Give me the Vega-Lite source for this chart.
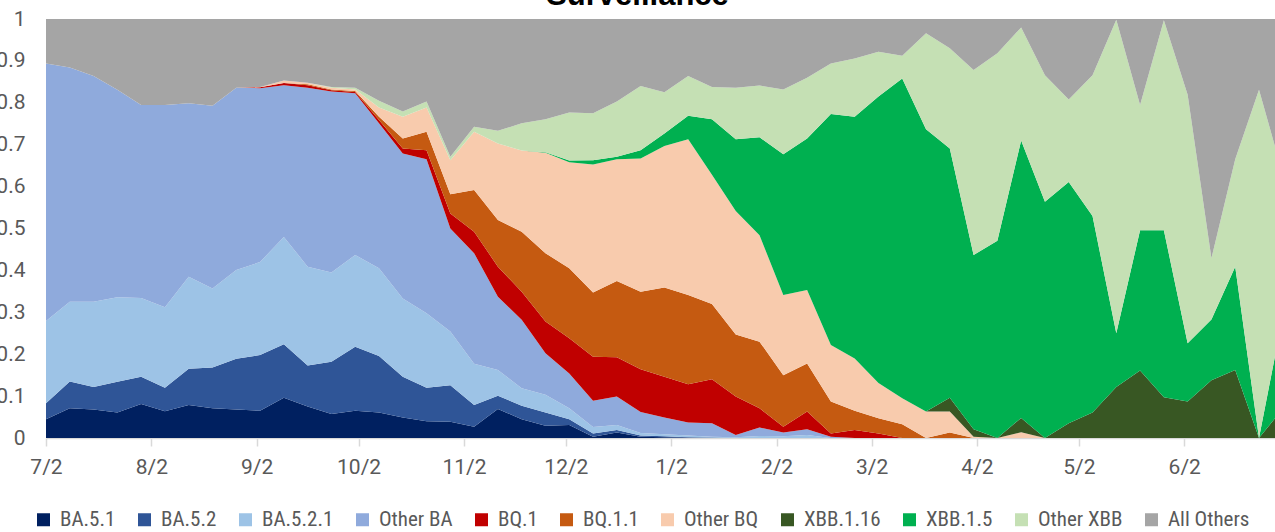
{
"$schema":"https://vega.github.io/schema/vega-lite/v6.json",
"width":1229,"height":419,"autosize":"none",
"padding":{"left":46,"top":19,"right":0,"bottom":94},
"background":"white",
"config":{"view":{"stroke":null}},
"title":{"text":"Surveillance","font":"Liberation Sans","fontSize":31,"fontWeight":"bold","color":"#000000","anchor":"middle","frame":"group","dx":-23,"baseline":"alphabetic","offset":-28,"zindex":1},
"data":{"values":[
{"d":"2022-07-02","s":"BA.5.1","v":0.045},{"d":"2022-07-02","s":"BA.5.2","v":0.038},{"d":"2022-07-02","s":"BA.5.2.1","v":0.196},{"d":"2022-07-02","s":"Other BA","v":0.615},{"d":"2022-07-02","s":"BQ.1","v":0},{"d":"2022-07-02","s":"BQ.1.1","v":0},{"d":"2022-07-02","s":"Other BQ","v":0},{"d":"2022-07-02","s":"XBB.1.16","v":0},{"d":"2022-07-02","s":"XBB.1.5","v":0},{"d":"2022-07-02","s":"Other XBB","v":0},{"d":"2022-07-02","s":"All Others","v":0.106},
{"d":"2022-07-09","s":"BA.5.1","v":0.071},{"d":"2022-07-09","s":"BA.5.2","v":0.064},{"d":"2022-07-09","s":"BA.5.2.1","v":0.190},{"d":"2022-07-09","s":"Other BA","v":0.559},{"d":"2022-07-09","s":"BQ.1","v":0},{"d":"2022-07-09","s":"BQ.1.1","v":0},{"d":"2022-07-09","s":"Other BQ","v":0},{"d":"2022-07-09","s":"XBB.1.16","v":0},{"d":"2022-07-09","s":"XBB.1.5","v":0},{"d":"2022-07-09","s":"Other XBB","v":0},{"d":"2022-07-09","s":"All Others","v":0.116},
{"d":"2022-07-16","s":"BA.5.1","v":0.068},{"d":"2022-07-16","s":"BA.5.2","v":0.054},{"d":"2022-07-16","s":"BA.5.2.1","v":0.203},{"d":"2022-07-16","s":"Other BA","v":0.539},{"d":"2022-07-16","s":"BQ.1","v":0},{"d":"2022-07-16","s":"BQ.1.1","v":0},{"d":"2022-07-16","s":"Other BQ","v":0},{"d":"2022-07-16","s":"XBB.1.16","v":0},{"d":"2022-07-16","s":"XBB.1.5","v":0},{"d":"2022-07-16","s":"Other XBB","v":0},{"d":"2022-07-16","s":"All Others","v":0.136},
{"d":"2022-07-23","s":"BA.5.1","v":0.061},{"d":"2022-07-23","s":"BA.5.2","v":0.073},{"d":"2022-07-23","s":"BA.5.2.1","v":0.202},{"d":"2022-07-23","s":"Other BA","v":0.495},{"d":"2022-07-23","s":"BQ.1","v":0},{"d":"2022-07-23","s":"BQ.1.1","v":0},{"d":"2022-07-23","s":"Other BQ","v":0},{"d":"2022-07-23","s":"XBB.1.16","v":0},{"d":"2022-07-23","s":"XBB.1.5","v":0},{"d":"2022-07-23","s":"Other XBB","v":0},{"d":"2022-07-23","s":"All Others","v":0.169},
{"d":"2022-07-30","s":"BA.5.1","v":0.081},{"d":"2022-07-30","s":"BA.5.2","v":0.065},{"d":"2022-07-30","s":"BA.5.2.1","v":0.188},{"d":"2022-07-30","s":"Other BA","v":0.461},{"d":"2022-07-30","s":"BQ.1","v":0},{"d":"2022-07-30","s":"BQ.1.1","v":0},{"d":"2022-07-30","s":"Other BQ","v":0},{"d":"2022-07-30","s":"XBB.1.16","v":0},{"d":"2022-07-30","s":"XBB.1.5","v":0},{"d":"2022-07-30","s":"Other XBB","v":0},{"d":"2022-07-30","s":"All Others","v":0.205},
{"d":"2022-08-06","s":"BA.5.1","v":0.064},{"d":"2022-08-06","s":"BA.5.2","v":0.056},{"d":"2022-08-06","s":"BA.5.2.1","v":0.192},{"d":"2022-08-06","s":"Other BA","v":0.483},{"d":"2022-08-06","s":"BQ.1","v":0},{"d":"2022-08-06","s":"BQ.1.1","v":0},{"d":"2022-08-06","s":"Other BQ","v":0},{"d":"2022-08-06","s":"XBB.1.16","v":0},{"d":"2022-08-06","s":"XBB.1.5","v":0},{"d":"2022-08-06","s":"Other XBB","v":0},{"d":"2022-08-06","s":"All Others","v":0.205},
{"d":"2022-08-13","s":"BA.5.1","v":0.079},{"d":"2022-08-13","s":"BA.5.2","v":0.086},{"d":"2022-08-13","s":"BA.5.2.1","v":0.220},{"d":"2022-08-13","s":"Other BA","v":0.414},{"d":"2022-08-13","s":"BQ.1","v":0},{"d":"2022-08-13","s":"BQ.1.1","v":0},{"d":"2022-08-13","s":"Other BQ","v":0},{"d":"2022-08-13","s":"XBB.1.16","v":0},{"d":"2022-08-13","s":"XBB.1.5","v":0},{"d":"2022-08-13","s":"Other XBB","v":0},{"d":"2022-08-13","s":"All Others","v":0.201},
{"d":"2022-08-20","s":"BA.5.1","v":0.071},{"d":"2022-08-20","s":"BA.5.2","v":0.097},{"d":"2022-08-20","s":"BA.5.2.1","v":0.189},{"d":"2022-08-20","s":"Other BA","v":0.436},{"d":"2022-08-20","s":"BQ.1","v":0},{"d":"2022-08-20","s":"BQ.1.1","v":0},{"d":"2022-08-20","s":"Other BQ","v":0},{"d":"2022-08-20","s":"XBB.1.16","v":0},{"d":"2022-08-20","s":"XBB.1.5","v":0},{"d":"2022-08-20","s":"Other XBB","v":0},{"d":"2022-08-20","s":"All Others","v":0.207},
{"d":"2022-08-27","s":"BA.5.1","v":0.068},{"d":"2022-08-27","s":"BA.5.2","v":0.121},{"d":"2022-08-27","s":"BA.5.2.1","v":0.212},{"d":"2022-08-27","s":"Other BA","v":0.435},{"d":"2022-08-27","s":"BQ.1","v":0},{"d":"2022-08-27","s":"BQ.1.1","v":0},{"d":"2022-08-27","s":"Other BQ","v":0},{"d":"2022-08-27","s":"XBB.1.16","v":0},{"d":"2022-08-27","s":"XBB.1.5","v":0},{"d":"2022-08-27","s":"Other XBB","v":0},{"d":"2022-08-27","s":"All Others","v":0.164},
{"d":"2022-09-03","s":"BA.5.1","v":0.065},{"d":"2022-09-03","s":"BA.5.2","v":0.133},{"d":"2022-09-03","s":"BA.5.2.1","v":0.222},{"d":"2022-09-03","s":"Other BA","v":0.415},{"d":"2022-09-03","s":"BQ.1","v":0.002},{"d":"2022-09-03","s":"BQ.1.1","v":0},{"d":"2022-09-03","s":"Other BQ","v":0.001},{"d":"2022-09-03","s":"XBB.1.16","v":0},{"d":"2022-09-03","s":"XBB.1.5","v":0},{"d":"2022-09-03","s":"Other XBB","v":0},{"d":"2022-09-03","s":"All Others","v":0.162},
{"d":"2022-09-10","s":"BA.5.1","v":0.096},{"d":"2022-09-10","s":"BA.5.2","v":0.128},{"d":"2022-09-10","s":"BA.5.2.1","v":0.256},{"d":"2022-09-10","s":"Other BA","v":0.362},{"d":"2022-09-10","s":"BQ.1","v":0.005},{"d":"2022-09-10","s":"BQ.1.1","v":0},{"d":"2022-09-10","s":"Other BQ","v":0.006},{"d":"2022-09-10","s":"XBB.1.16","v":0},{"d":"2022-09-10","s":"XBB.1.5","v":0},{"d":"2022-09-10","s":"Other XBB","v":0},{"d":"2022-09-10","s":"All Others","v":0.147},
{"d":"2022-09-17","s":"BA.5.1","v":0.075},{"d":"2022-09-17","s":"BA.5.2","v":0.098},{"d":"2022-09-17","s":"BA.5.2.1","v":0.236},{"d":"2022-09-17","s":"Other BA","v":0.427},{"d":"2022-09-17","s":"BQ.1","v":0.006},{"d":"2022-09-17","s":"BQ.1.1","v":0.002},{"d":"2022-09-17","s":"Other BQ","v":0.004},{"d":"2022-09-17","s":"XBB.1.16","v":0},{"d":"2022-09-17","s":"XBB.1.5","v":0},{"d":"2022-09-17","s":"Other XBB","v":0},{"d":"2022-09-17","s":"All Others","v":0.152},
{"d":"2022-09-24","s":"BA.5.1","v":0.057},{"d":"2022-09-24","s":"BA.5.2","v":0.125},{"d":"2022-09-24","s":"BA.5.2.1","v":0.213},{"d":"2022-09-24","s":"Other BA","v":0.432},{"d":"2022-09-24","s":"BQ.1","v":0.003},{"d":"2022-09-24","s":"BQ.1.1","v":0.002},{"d":"2022-09-24","s":"Other BQ","v":0.004},{"d":"2022-09-24","s":"XBB.1.16","v":0},{"d":"2022-09-24","s":"XBB.1.5","v":0},{"d":"2022-09-24","s":"Other XBB","v":0.002},{"d":"2022-09-24","s":"All Others","v":0.162},
{"d":"2022-10-01","s":"BA.5.1","v":0.065},{"d":"2022-10-01","s":"BA.5.2","v":0.153},{"d":"2022-10-01","s":"BA.5.2.1","v":0.219},{"d":"2022-10-01","s":"Other BA","v":0.386},{"d":"2022-10-01","s":"BQ.1","v":0.003},{"d":"2022-10-01","s":"BQ.1.1","v":0.002},{"d":"2022-10-01","s":"Other BQ","v":0.004},{"d":"2022-10-01","s":"XBB.1.16","v":0},{"d":"2022-10-01","s":"XBB.1.5","v":0},{"d":"2022-10-01","s":"Other XBB","v":0.004},{"d":"2022-10-01","s":"All Others","v":0.164},
{"d":"2022-10-08","s":"BA.5.1","v":0.061},{"d":"2022-10-08","s":"BA.5.2","v":0.135},{"d":"2022-10-08","s":"BA.5.2.1","v":0.209},{"d":"2022-10-08","s":"Other BA","v":0.346},{"d":"2022-10-08","s":"BQ.1","v":0.008},{"d":"2022-10-08","s":"BQ.1.1","v":0.008},{"d":"2022-10-08","s":"Other BQ","v":0.022},{"d":"2022-10-08","s":"XBB.1.16","v":0},{"d":"2022-10-08","s":"XBB.1.5","v":0},{"d":"2022-10-08","s":"Other XBB","v":0.016},{"d":"2022-10-08","s":"All Others","v":0.195},
{"d":"2022-10-15","s":"BA.5.1","v":0.049},{"d":"2022-10-15","s":"BA.5.2","v":0.097},{"d":"2022-10-15","s":"BA.5.2.1","v":0.187},{"d":"2022-10-15","s":"Other BA","v":0.346},{"d":"2022-10-15","s":"BQ.1","v":0.012},{"d":"2022-10-15","s":"BQ.1.1","v":0.024},{"d":"2022-10-15","s":"Other BQ","v":0.052},{"d":"2022-10-15","s":"XBB.1.16","v":0},{"d":"2022-10-15","s":"XBB.1.5","v":0},{"d":"2022-10-15","s":"Other XBB","v":0.012},{"d":"2022-10-15","s":"All Others","v":0.221},
{"d":"2022-10-22","s":"BA.5.1","v":0.040},{"d":"2022-10-22","s":"BA.5.2","v":0.080},{"d":"2022-10-22","s":"BA.5.2.1","v":0.178},{"d":"2022-10-22","s":"Other BA","v":0.367},{"d":"2022-10-22","s":"BQ.1","v":0.022},{"d":"2022-10-22","s":"BQ.1.1","v":0.044},{"d":"2022-10-22","s":"Other BQ","v":0.058},{"d":"2022-10-22","s":"XBB.1.16","v":0},{"d":"2022-10-22","s":"XBB.1.5","v":0},{"d":"2022-10-22","s":"Other XBB","v":0.014},{"d":"2022-10-22","s":"All Others","v":0.197},
{"d":"2022-10-29","s":"BA.5.1","v":0.039},{"d":"2022-10-29","s":"BA.5.2","v":0.087},{"d":"2022-10-29","s":"BA.5.2.1","v":0.128},{"d":"2022-10-29","s":"Other BA","v":0.246},{"d":"2022-10-29","s":"BQ.1","v":0.036},{"d":"2022-10-29","s":"BQ.1.1","v":0.046},{"d":"2022-10-29","s":"Other BQ","v":0.081},{"d":"2022-10-29","s":"XBB.1.16","v":0},{"d":"2022-10-29","s":"XBB.1.5","v":0},{"d":"2022-10-29","s":"Other XBB","v":0.008},{"d":"2022-10-29","s":"All Others","v":0.329},
{"d":"2022-11-05","s":"BA.5.1","v":0.027},{"d":"2022-11-05","s":"BA.5.2","v":0.052},{"d":"2022-11-05","s":"BA.5.2.1","v":0.098},{"d":"2022-11-05","s":"Other BA","v":0.264},{"d":"2022-11-05","s":"BQ.1","v":0.051},{"d":"2022-11-05","s":"BQ.1.1","v":0.100},{"d":"2022-11-05","s":"Other BQ","v":0.139},{"d":"2022-11-05","s":"XBB.1.16","v":0},{"d":"2022-11-05","s":"XBB.1.5","v":0},{"d":"2022-11-05","s":"Other XBB","v":0.012},{"d":"2022-11-05","s":"All Others","v":0.257},
{"d":"2022-11-12","s":"BA.5.1","v":0.069},{"d":"2022-11-12","s":"BA.5.2","v":0.032},{"d":"2022-11-12","s":"BA.5.2.1","v":0.061},{"d":"2022-11-12","s":"Other BA","v":0.175},{"d":"2022-11-12","s":"BQ.1","v":0.072},{"d":"2022-11-12","s":"BQ.1.1","v":0.111},{"d":"2022-11-12","s":"Other BQ","v":0.183},{"d":"2022-11-12","s":"XBB.1.16","v":0},{"d":"2022-11-12","s":"XBB.1.5","v":0},{"d":"2022-11-12","s":"Other XBB","v":0.030},{"d":"2022-11-12","s":"All Others","v":0.267},
{"d":"2022-11-19","s":"BA.5.1","v":0.045},{"d":"2022-11-19","s":"BA.5.2","v":0.032},{"d":"2022-11-19","s":"BA.5.2.1","v":0.042},{"d":"2022-11-19","s":"Other BA","v":0.163},{"d":"2022-11-19","s":"BQ.1","v":0.067},{"d":"2022-11-19","s":"BQ.1.1","v":0.143},{"d":"2022-11-19","s":"Other BQ","v":0.194},{"d":"2022-11-19","s":"XBB.1.16","v":0},{"d":"2022-11-19","s":"XBB.1.5","v":0},{"d":"2022-11-19","s":"Other XBB","v":0.065},{"d":"2022-11-19","s":"All Others","v":0.249},
{"d":"2022-11-26","s":"BA.5.1","v":0.029},{"d":"2022-11-26","s":"BA.5.2","v":0.032},{"d":"2022-11-26","s":"BA.5.2.1","v":0.042},{"d":"2022-11-26","s":"Other BA","v":0.099},{"d":"2022-11-26","s":"BQ.1","v":0.076},{"d":"2022-11-26","s":"BQ.1.1","v":0.163},{"d":"2022-11-26","s":"Other BQ","v":0.240},{"d":"2022-11-26","s":"XBB.1.16","v":0},{"d":"2022-11-26","s":"XBB.1.5","v":0.001},{"d":"2022-11-26","s":"Other XBB","v":0.079},{"d":"2022-11-26","s":"All Others","v":0.239},
{"d":"2022-12-03","s":"BA.5.1","v":0.031},{"d":"2022-12-03","s":"BA.5.2","v":0.014},{"d":"2022-12-03","s":"BA.5.2.1","v":0.026},{"d":"2022-12-03","s":"Other BA","v":0.083},{"d":"2022-12-03","s":"BQ.1","v":0.084},{"d":"2022-12-03","s":"BQ.1.1","v":0.167},{"d":"2022-12-03","s":"Other BQ","v":0.253},{"d":"2022-12-03","s":"XBB.1.16","v":0},{"d":"2022-12-03","s":"XBB.1.5","v":0.004},{"d":"2022-12-03","s":"Other XBB","v":0.115},{"d":"2022-12-03","s":"All Others","v":0.223},
{"d":"2022-12-10","s":"BA.5.1","v":0.003},{"d":"2022-12-10","s":"BA.5.2","v":0.008},{"d":"2022-12-10","s":"BA.5.2.1","v":0.015},{"d":"2022-12-10","s":"Other BA","v":0.063},{"d":"2022-12-10","s":"BQ.1","v":0.105},{"d":"2022-12-10","s":"BQ.1.1","v":0.153},{"d":"2022-12-10","s":"Other BQ","v":0.306},{"d":"2022-12-10","s":"XBB.1.16","v":0},{"d":"2022-12-10","s":"XBB.1.5","v":0.010},{"d":"2022-12-10","s":"Other XBB","v":0.112},{"d":"2022-12-10","s":"All Others","v":0.225},
{"d":"2022-12-17","s":"BA.5.1","v":0.013},{"d":"2022-12-17","s":"BA.5.2","v":0.006},{"d":"2022-12-17","s":"BA.5.2.1","v":0.012},{"d":"2022-12-17","s":"Other BA","v":0.068},{"d":"2022-12-17","s":"BQ.1","v":0.094},{"d":"2022-12-17","s":"BQ.1.1","v":0.182},{"d":"2022-12-17","s":"Other BQ","v":0.290},{"d":"2022-12-17","s":"XBB.1.16","v":0},{"d":"2022-12-17","s":"XBB.1.5","v":0.006},{"d":"2022-12-17","s":"Other XBB","v":0.132},{"d":"2022-12-17","s":"All Others","v":0.197},
{"d":"2022-12-24","s":"BA.5.1","v":0.003},{"d":"2022-12-24","s":"BA.5.2","v":0.003},{"d":"2022-12-24","s":"BA.5.2.1","v":0.006},{"d":"2022-12-24","s":"Other BA","v":0.050},{"d":"2022-12-24","s":"BQ.1","v":0.102},{"d":"2022-12-24","s":"BQ.1.1","v":0.185},{"d":"2022-12-24","s":"Other BQ","v":0.318},{"d":"2022-12-24","s":"XBB.1.16","v":0},{"d":"2022-12-24","s":"XBB.1.5","v":0.020},{"d":"2022-12-24","s":"Other XBB","v":0.153},{"d":"2022-12-24","s":"All Others","v":0.160},
{"d":"2022-12-31","s":"BA.5.1","v":0.002},{"d":"2022-12-31","s":"BA.5.2","v":0.002},{"d":"2022-12-31","s":"BA.5.2.1","v":0.005},{"d":"2022-12-31","s":"Other BA","v":0.040},{"d":"2022-12-31","s":"BQ.1","v":0.097},{"d":"2022-12-31","s":"BQ.1.1","v":0.213},{"d":"2022-12-31","s":"Other BQ","v":0.338},{"d":"2022-12-31","s":"XBB.1.16","v":0},{"d":"2022-12-31","s":"XBB.1.5","v":0.030},{"d":"2022-12-31","s":"Other XBB","v":0.098},{"d":"2022-12-31","s":"All Others","v":0.175},
{"d":"2023-01-07","s":"BA.5.1","v":0.001},{"d":"2023-01-07","s":"BA.5.2","v":0.001},{"d":"2023-01-07","s":"BA.5.2.1","v":0.004},{"d":"2023-01-07","s":"Other BA","v":0.031},{"d":"2023-01-07","s":"BQ.1","v":0.091},{"d":"2023-01-07","s":"BQ.1.1","v":0.213},{"d":"2023-01-07","s":"Other BQ","v":0.372},{"d":"2023-01-07","s":"XBB.1.16","v":0},{"d":"2023-01-07","s":"XBB.1.5","v":0.056},{"d":"2023-01-07","s":"Other XBB","v":0.095},{"d":"2023-01-07","s":"All Others","v":0.136},
{"d":"2023-01-14","s":"BA.5.1","v":0},{"d":"2023-01-14","s":"BA.5.2","v":0.001},{"d":"2023-01-14","s":"BA.5.2.1","v":0.002},{"d":"2023-01-14","s":"Other BA","v":0.032},{"d":"2023-01-14","s":"BQ.1","v":0.105},{"d":"2023-01-14","s":"BQ.1.1","v":0.180},{"d":"2023-01-14","s":"Other BQ","v":0.308},{"d":"2023-01-14","s":"XBB.1.16","v":0},{"d":"2023-01-14","s":"XBB.1.5","v":0.133},{"d":"2023-01-14","s":"Other XBB","v":0.077},{"d":"2023-01-14","s":"All Others","v":0.162},
{"d":"2023-01-21","s":"BA.5.1","v":0},{"d":"2023-01-21","s":"BA.5.2","v":0},{"d":"2023-01-21","s":"BA.5.2.1","v":0.002},{"d":"2023-01-21","s":"Other BA","v":0.005},{"d":"2023-01-21","s":"BQ.1","v":0.092},{"d":"2023-01-21","s":"BQ.1.1","v":0.148},{"d":"2023-01-21","s":"Other BQ","v":0.295},{"d":"2023-01-21","s":"XBB.1.16","v":0},{"d":"2023-01-21","s":"XBB.1.5","v":0.171},{"d":"2023-01-21","s":"Other XBB","v":0.123},{"d":"2023-01-21","s":"All Others","v":0.164},
{"d":"2023-01-28","s":"BA.5.1","v":0},{"d":"2023-01-28","s":"BA.5.2","v":0},{"d":"2023-01-28","s":"BA.5.2.1","v":0.005},{"d":"2023-01-28","s":"Other BA","v":0.020},{"d":"2023-01-28","s":"BQ.1","v":0.046},{"d":"2023-01-28","s":"BQ.1.1","v":0.159},{"d":"2023-01-28","s":"Other BQ","v":0.254},{"d":"2023-01-28","s":"XBB.1.16","v":0},{"d":"2023-01-28","s":"XBB.1.5","v":0.234},{"d":"2023-01-28","s":"Other XBB","v":0.123},{"d":"2023-01-28","s":"All Others","v":0.159},
{"d":"2023-02-04","s":"BA.5.1","v":0},{"d":"2023-02-04","s":"BA.5.2","v":0},{"d":"2023-02-04","s":"BA.5.2.1","v":0.004},{"d":"2023-02-04","s":"Other BA","v":0.009},{"d":"2023-02-04","s":"BQ.1","v":0.014},{"d":"2023-02-04","s":"BQ.1.1","v":0.123},{"d":"2023-02-04","s":"Other BQ","v":0.191},{"d":"2023-02-04","s":"XBB.1.16","v":0},{"d":"2023-02-04","s":"XBB.1.5","v":0.336},{"d":"2023-02-04","s":"Other XBB","v":0.155},{"d":"2023-02-04","s":"All Others","v":0.168},
{"d":"2023-02-11","s":"BA.5.1","v":0},{"d":"2023-02-11","s":"BA.5.2","v":0},{"d":"2023-02-11","s":"BA.5.2.1","v":0.007},{"d":"2023-02-11","s":"Other BA","v":0.014},{"d":"2023-02-11","s":"BQ.1","v":0.042},{"d":"2023-02-11","s":"BQ.1.1","v":0.115},{"d":"2023-02-11","s":"Other BQ","v":0.175},{"d":"2023-02-11","s":"XBB.1.16","v":0},{"d":"2023-02-11","s":"XBB.1.5","v":0.362},{"d":"2023-02-11","s":"Other XBB","v":0.145},{"d":"2023-02-11","s":"All Others","v":0.140},
{"d":"2023-02-18","s":"BA.5.1","v":0},{"d":"2023-02-18","s":"BA.5.2","v":0},{"d":"2023-02-18","s":"BA.5.2.1","v":0},{"d":"2023-02-18","s":"Other BA","v":0.003},{"d":"2023-02-18","s":"BQ.1","v":0.008},{"d":"2023-02-18","s":"BQ.1.1","v":0.076},{"d":"2023-02-18","s":"Other BQ","v":0.135},{"d":"2023-02-18","s":"XBB.1.16","v":0},{"d":"2023-02-18","s":"XBB.1.5","v":0.551},{"d":"2023-02-18","s":"Other XBB","v":0.121},{"d":"2023-02-18","s":"All Others","v":0.106},
{"d":"2023-02-25","s":"BA.5.1","v":0},{"d":"2023-02-25","s":"BA.5.2","v":0},{"d":"2023-02-25","s":"BA.5.2.1","v":0},{"d":"2023-02-25","s":"Other BA","v":0},{"d":"2023-02-25","s":"BQ.1","v":0.019},{"d":"2023-02-25","s":"BQ.1.1","v":0.046},{"d":"2023-02-25","s":"Other BQ","v":0.125},{"d":"2023-02-25","s":"XBB.1.16","v":0},{"d":"2023-02-25","s":"XBB.1.5","v":0.577},{"d":"2023-02-25","s":"Other XBB","v":0.139},{"d":"2023-02-25","s":"All Others","v":0.094},
{"d":"2023-03-04","s":"BA.5.1","v":0},{"d":"2023-03-04","s":"BA.5.2","v":0},{"d":"2023-03-04","s":"BA.5.2.1","v":0},{"d":"2023-03-04","s":"Other BA","v":0},{"d":"2023-03-04","s":"BQ.1","v":0.011},{"d":"2023-03-04","s":"BQ.1.1","v":0.036},{"d":"2023-03-04","s":"Other BQ","v":0.084},{"d":"2023-03-04","s":"XBB.1.16","v":0},{"d":"2023-03-04","s":"XBB.1.5","v":0.684},{"d":"2023-03-04","s":"Other XBB","v":0.107},{"d":"2023-03-04","s":"All Others","v":0.078},
{"d":"2023-03-11","s":"BA.5.1","v":0},{"d":"2023-03-11","s":"BA.5.2","v":0},{"d":"2023-03-11","s":"BA.5.2.1","v":0},{"d":"2023-03-11","s":"Other BA","v":0},{"d":"2023-03-11","s":"BQ.1","v":0},{"d":"2023-03-11","s":"BQ.1.1","v":0.033},{"d":"2023-03-11","s":"Other BQ","v":0.062},{"d":"2023-03-11","s":"XBB.1.16","v":0},{"d":"2023-03-11","s":"XBB.1.5","v":0.763},{"d":"2023-03-11","s":"Other XBB","v":0.054},{"d":"2023-03-11","s":"All Others","v":0.088},
{"d":"2023-03-18","s":"BA.5.1","v":0},{"d":"2023-03-18","s":"BA.5.2","v":0},{"d":"2023-03-18","s":"BA.5.2.1","v":0},{"d":"2023-03-18","s":"Other BA","v":0},{"d":"2023-03-18","s":"BQ.1","v":0},{"d":"2023-03-18","s":"BQ.1.1","v":0},{"d":"2023-03-18","s":"Other BQ","v":0.063},{"d":"2023-03-18","s":"XBB.1.16","v":0},{"d":"2023-03-18","s":"XBB.1.5","v":0.674},{"d":"2023-03-18","s":"Other XBB","v":0.229},{"d":"2023-03-18","s":"All Others","v":0.034},
{"d":"2023-03-25","s":"BA.5.1","v":0},{"d":"2023-03-25","s":"BA.5.2","v":0},{"d":"2023-03-25","s":"BA.5.2.1","v":0},{"d":"2023-03-25","s":"Other BA","v":0},{"d":"2023-03-25","s":"BQ.1","v":0},{"d":"2023-03-25","s":"BQ.1.1","v":0.013},{"d":"2023-03-25","s":"Other BQ","v":0.050},{"d":"2023-03-25","s":"XBB.1.16","v":0.033},{"d":"2023-03-25","s":"XBB.1.5","v":0.595},{"d":"2023-03-25","s":"Other XBB","v":0.239},{"d":"2023-03-25","s":"All Others","v":0.070},
{"d":"2023-04-01","s":"BA.5.1","v":0},{"d":"2023-04-01","s":"BA.5.2","v":0},{"d":"2023-04-01","s":"BA.5.2.1","v":0},{"d":"2023-04-01","s":"Other BA","v":0},{"d":"2023-04-01","s":"BQ.1","v":0},{"d":"2023-04-01","s":"BQ.1.1","v":0},{"d":"2023-04-01","s":"Other BQ","v":0.003},{"d":"2023-04-01","s":"XBB.1.16","v":0.018},{"d":"2023-04-01","s":"XBB.1.5","v":0.416},{"d":"2023-04-01","s":"Other XBB","v":0.441},{"d":"2023-04-01","s":"All Others","v":0.122},
{"d":"2023-04-08","s":"BA.5.1","v":0},{"d":"2023-04-08","s":"BA.5.2","v":0},{"d":"2023-04-08","s":"BA.5.2.1","v":0},{"d":"2023-04-08","s":"Other BA","v":0},{"d":"2023-04-08","s":"BQ.1","v":0},{"d":"2023-04-08","s":"BQ.1.1","v":0},{"d":"2023-04-08","s":"Other BQ","v":0},{"d":"2023-04-08","s":"XBB.1.16","v":0},{"d":"2023-04-08","s":"XBB.1.5","v":0.471},{"d":"2023-04-08","s":"Other XBB","v":0.447},{"d":"2023-04-08","s":"All Others","v":0.082},
{"d":"2023-04-15","s":"BA.5.1","v":0},{"d":"2023-04-15","s":"BA.5.2","v":0},{"d":"2023-04-15","s":"BA.5.2.1","v":0},{"d":"2023-04-15","s":"Other BA","v":0},{"d":"2023-04-15","s":"BQ.1","v":0},{"d":"2023-04-15","s":"BQ.1.1","v":0},{"d":"2023-04-15","s":"Other BQ","v":0.014},{"d":"2023-04-15","s":"XBB.1.16","v":0.034},{"d":"2023-04-15","s":"XBB.1.5","v":0.662},{"d":"2023-04-15","s":"Other XBB","v":0.270},{"d":"2023-04-15","s":"All Others","v":0.020},
{"d":"2023-04-22","s":"BA.5.1","v":0},{"d":"2023-04-22","s":"BA.5.2","v":0},{"d":"2023-04-22","s":"BA.5.2.1","v":0},{"d":"2023-04-22","s":"Other BA","v":0},{"d":"2023-04-22","s":"BQ.1","v":0},{"d":"2023-04-22","s":"BQ.1.1","v":0},{"d":"2023-04-22","s":"Other BQ","v":0},{"d":"2023-04-22","s":"XBB.1.16","v":0},{"d":"2023-04-22","s":"XBB.1.5","v":0.564},{"d":"2023-04-22","s":"Other XBB","v":0.302},{"d":"2023-04-22","s":"All Others","v":0.134},
{"d":"2023-04-29","s":"BA.5.1","v":0},{"d":"2023-04-29","s":"BA.5.2","v":0},{"d":"2023-04-29","s":"BA.5.2.1","v":0},{"d":"2023-04-29","s":"Other BA","v":0},{"d":"2023-04-29","s":"BQ.1","v":0},{"d":"2023-04-29","s":"BQ.1.1","v":0},{"d":"2023-04-29","s":"Other BQ","v":0},{"d":"2023-04-29","s":"XBB.1.16","v":0.035},{"d":"2023-04-29","s":"XBB.1.5","v":0.576},{"d":"2023-04-29","s":"Other XBB","v":0.197},{"d":"2023-04-29","s":"All Others","v":0.192},
{"d":"2023-05-06","s":"BA.5.1","v":0},{"d":"2023-05-06","s":"BA.5.2","v":0},{"d":"2023-05-06","s":"BA.5.2.1","v":0},{"d":"2023-05-06","s":"Other BA","v":0},{"d":"2023-05-06","s":"BQ.1","v":0},{"d":"2023-05-06","s":"BQ.1.1","v":0},{"d":"2023-05-06","s":"Other BQ","v":0},{"d":"2023-05-06","s":"XBB.1.16","v":0.061},{"d":"2023-05-06","s":"XBB.1.5","v":0.469},{"d":"2023-05-06","s":"Other XBB","v":0.336},{"d":"2023-05-06","s":"All Others","v":0.134},
{"d":"2023-05-13","s":"BA.5.1","v":0},{"d":"2023-05-13","s":"BA.5.2","v":0},{"d":"2023-05-13","s":"BA.5.2.1","v":0},{"d":"2023-05-13","s":"Other BA","v":0},{"d":"2023-05-13","s":"BQ.1","v":0},{"d":"2023-05-13","s":"BQ.1.1","v":0},{"d":"2023-05-13","s":"Other BQ","v":0},{"d":"2023-05-13","s":"XBB.1.16","v":0.122},{"d":"2023-05-13","s":"XBB.1.5","v":0.128},{"d":"2023-05-13","s":"Other XBB","v":0.748},{"d":"2023-05-13","s":"All Others","v":0.002},
{"d":"2023-05-20","s":"BA.5.1","v":0},{"d":"2023-05-20","s":"BA.5.2","v":0},{"d":"2023-05-20","s":"BA.5.2.1","v":0},{"d":"2023-05-20","s":"Other BA","v":0},{"d":"2023-05-20","s":"BQ.1","v":0},{"d":"2023-05-20","s":"BQ.1.1","v":0},{"d":"2023-05-20","s":"Other BQ","v":0},{"d":"2023-05-20","s":"XBB.1.16","v":0.161},{"d":"2023-05-20","s":"XBB.1.5","v":0.335},{"d":"2023-05-20","s":"Other XBB","v":0.299},{"d":"2023-05-20","s":"All Others","v":0.205},
{"d":"2023-05-27","s":"BA.5.1","v":0},{"d":"2023-05-27","s":"BA.5.2","v":0},{"d":"2023-05-27","s":"BA.5.2.1","v":0},{"d":"2023-05-27","s":"Other BA","v":0},{"d":"2023-05-27","s":"BQ.1","v":0},{"d":"2023-05-27","s":"BQ.1.1","v":0},{"d":"2023-05-27","s":"Other BQ","v":0},{"d":"2023-05-27","s":"XBB.1.16","v":0.097},{"d":"2023-05-27","s":"XBB.1.5","v":0.399},{"d":"2023-05-27","s":"Other XBB","v":0.501},{"d":"2023-05-27","s":"All Others","v":0.003},
{"d":"2023-06-03","s":"BA.5.1","v":0},{"d":"2023-06-03","s":"BA.5.2","v":0},{"d":"2023-06-03","s":"BA.5.2.1","v":0},{"d":"2023-06-03","s":"Other BA","v":0},{"d":"2023-06-03","s":"BQ.1","v":0},{"d":"2023-06-03","s":"BQ.1.1","v":0},{"d":"2023-06-03","s":"Other BQ","v":0},{"d":"2023-06-03","s":"XBB.1.16","v":0.087},{"d":"2023-06-03","s":"XBB.1.5","v":0.139},{"d":"2023-06-03","s":"Other XBB","v":0.593},{"d":"2023-06-03","s":"All Others","v":0.181},
{"d":"2023-06-10","s":"BA.5.1","v":0},{"d":"2023-06-10","s":"BA.5.2","v":0},{"d":"2023-06-10","s":"BA.5.2.1","v":0},{"d":"2023-06-10","s":"Other BA","v":0},{"d":"2023-06-10","s":"BQ.1","v":0},{"d":"2023-06-10","s":"BQ.1.1","v":0},{"d":"2023-06-10","s":"Other BQ","v":0},{"d":"2023-06-10","s":"XBB.1.16","v":0.138},{"d":"2023-06-10","s":"XBB.1.5","v":0.145},{"d":"2023-06-10","s":"Other XBB","v":0.146},{"d":"2023-06-10","s":"All Others","v":0.571},
{"d":"2023-06-17","s":"BA.5.1","v":0},{"d":"2023-06-17","s":"BA.5.2","v":0},{"d":"2023-06-17","s":"BA.5.2.1","v":0},{"d":"2023-06-17","s":"Other BA","v":0},{"d":"2023-06-17","s":"BQ.1","v":0},{"d":"2023-06-17","s":"BQ.1.1","v":0},{"d":"2023-06-17","s":"Other BQ","v":0},{"d":"2023-06-17","s":"XBB.1.16","v":0.162},{"d":"2023-06-17","s":"XBB.1.5","v":0.247},{"d":"2023-06-17","s":"Other XBB","v":0.256},{"d":"2023-06-17","s":"All Others","v":0.335},
{"d":"2023-06-24","s":"BA.5.1","v":0},{"d":"2023-06-24","s":"BA.5.2","v":0},{"d":"2023-06-24","s":"BA.5.2.1","v":0},{"d":"2023-06-24","s":"Other BA","v":0},{"d":"2023-06-24","s":"BQ.1","v":0},{"d":"2023-06-24","s":"BQ.1.1","v":0},{"d":"2023-06-24","s":"Other BQ","v":0},{"d":"2023-06-24","s":"XBB.1.16","v":0},{"d":"2023-06-24","s":"XBB.1.5","v":0},{"d":"2023-06-24","s":"Other XBB","v":0.831},{"d":"2023-06-24","s":"All Others","v":0.169},
{"d":"2023-07-01","s":"BA.5.1","v":0},{"d":"2023-07-01","s":"BA.5.2","v":0},{"d":"2023-07-01","s":"BA.5.2.1","v":0},{"d":"2023-07-01","s":"Other BA","v":0},{"d":"2023-07-01","s":"BQ.1","v":0},{"d":"2023-07-01","s":"BQ.1.1","v":0},{"d":"2023-07-01","s":"Other BQ","v":0},{"d":"2023-07-01","s":"XBB.1.16","v":0.07},{"d":"2023-07-01","s":"XBB.1.5","v":0.22},{"d":"2023-07-01","s":"Other XBB","v":0.34},{"d":"2023-07-01","s":"All Others","v":0.37}
]},
"transform":[{"lookup":"s","from":{"data":{"values":[{"s":"BA.5.1","k":1},{"s":"BA.5.2","k":2},{"s":"BA.5.2.1","k":3},{"s":"Other BA","k":4},{"s":"BQ.1","k":5},{"s":"BQ.1.1","k":6},{"s":"Other BQ","k":7},{"s":"XBB.1.16","k":8},{"s":"XBB.1.5","k":9},{"s":"Other XBB","k":10},{"s":"All Others","k":11}]},"key":"s","fields":["k"]}}],
"mark":{"type":"area","clip":true,"interpolate":"linear"},
"encoding":{
"x":{"field":"d","type":"temporal",
"scale":{"type":"utc","domain":[{"year":2022,"month":7,"date":2,"utc":true},{"year":2023,"month":6,"date":28,"hours":17,"utc":true}]},
"axis":{"title":null,"grid":false,"format":"%-m/%-d","labelFlush":false,"labelOverlap":false,
"values":[{"year":2022,"month":7,"date":2,"utc":true},{"year":2022,"month":8,"date":2,"utc":true},{"year":2022,"month":9,"date":2,"utc":true},{"year":2022,"month":10,"date":2,"utc":true},{"year":2022,"month":11,"date":2,"utc":true},{"year":2022,"month":12,"date":2,"utc":true},{"year":2023,"month":1,"date":2,"utc":true},{"year":2023,"month":2,"date":2,"utc":true},{"year":2023,"month":3,"date":2,"utc":true},{"year":2023,"month":4,"date":2,"utc":true},{"year":2023,"month":5,"date":2,"utc":true},{"year":2023,"month":6,"date":2,"utc":true}],
"labelFont":"Roboto","labelFontSize":21,"labelColor":"#595959","labelPadding":10,
"domainColor":"#D9D9D9","domainWidth":1.5,"tickColor":"#D9D9D9","tickWidth":1.5,"tickSize":8}},
"y":{"field":"v","type":"quantitative","stack":"zero",
"scale":{"domain":[0,1],"nice":false,"zero":true},
"axis":{"title":null,"grid":false,"domain":false,"ticks":false,"values":[0,0.1,0.2,0.3,0.4,0.5,0.6,0.7,0.8,0.9,1],"format":".1~f",
"labelFont":"Roboto","labelFontSize":21,"labelColor":"#595959","labelPadding":21}},
"order":{"field":"k","type":"quantitative","sort":"ascending"},
"color":{"field":"s","type":"nominal",
"scale":{"domain":["BA.5.1","BA.5.2","BA.5.2.1","Other BA","BQ.1","BQ.1.1","Other BQ","XBB.1.16","XBB.1.5","Other XBB","All Others"],
"range":["#002060","#2F5597","#9DC3E6","#8FAADC","#C00000","#C55A11","#F8CBAD","#385723","#00B050","#C5E0B4","#A5A5A5"]},
"legend":{"title":null,"orient":"none","legendX":-13,"legendY":490,"direction":"horizontal","columns":11,
"symbolType":"square","symbolSize":169,"symbolStrokeWidth":0,"symbolOpacity":1,
"labelFont":"Roboto Condensed, DejaVu Sans Condensed, Liberation Sans Narrow, Arial Narrow, Roboto","labelFontSize":21,"labelColor":"#595959","labelOffset":6,"columnPadding":18,"labelLimit":300}}
}
}
